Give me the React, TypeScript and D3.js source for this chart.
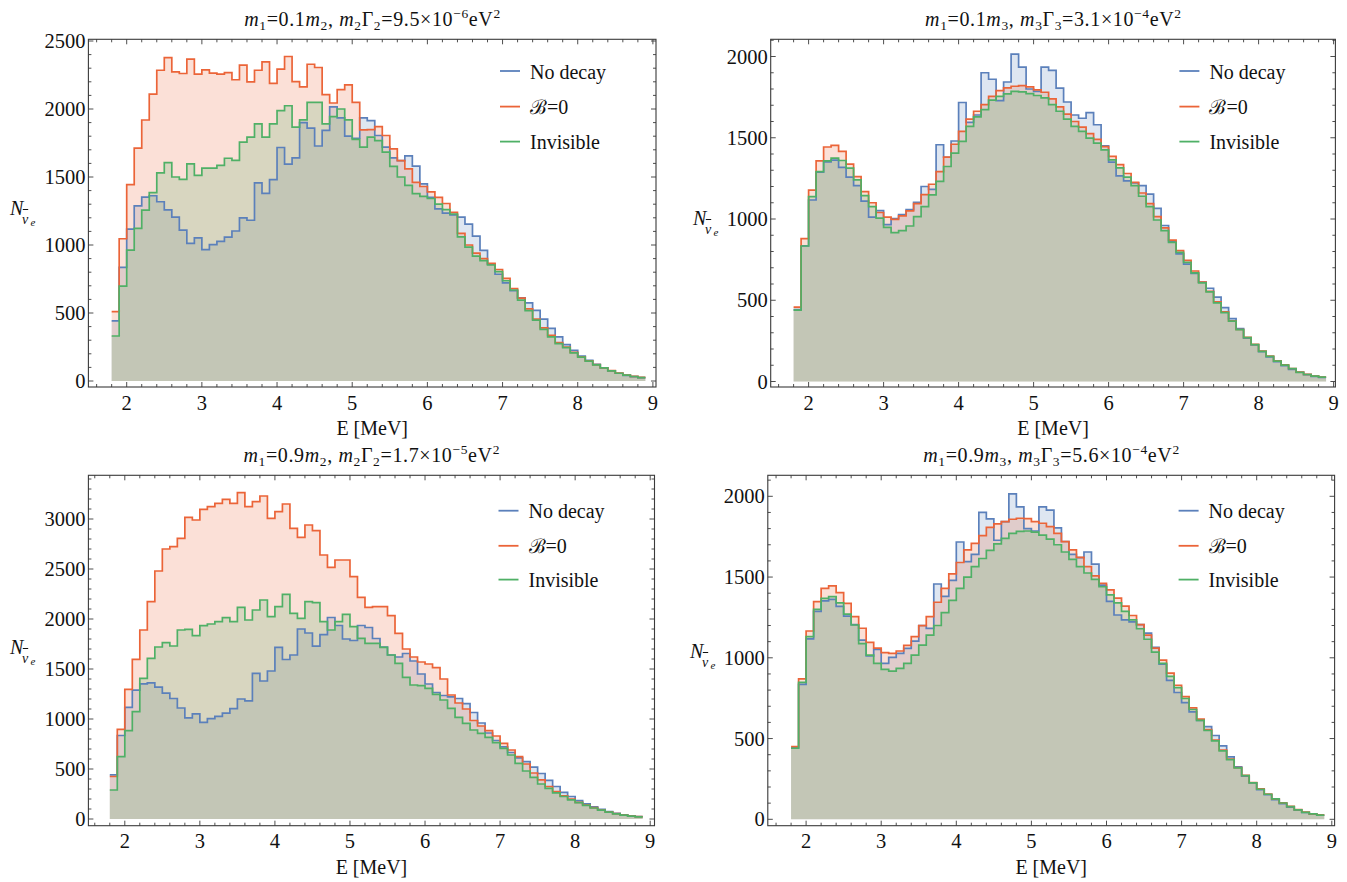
import React from "react";
import * as d3 from "d3";

// ---------- data (bins of 0.1 MeV starting at 1.8 MeV) ----------
const binStart = 1.8;
const binWidth = 0.1;

const noDecay = [
  442, 835, 1117, 1288, 1352, 1362, 1318, 1258, 1205, 1110,
  1012, 1052, 966, 1003, 1027, 1058, 1103, 1200, 1182, 1457,
  1380, 1480, 1717, 1595, 1640, 1900, 1860, 1728, 1843, 2015,
  1935, 1800, 1785, 1935, 1915, 1805, 1720, 1640, 1620, 1655,
  1580, 1450, 1350, 1265, 1235, 1222, 1205, 1153, 1065, 960,
  860, 785, 722, 665, 612, 574, 519, 455, 387, 325,
  267, 225, 184, 152, 122, 97, 75, 57, 42, 32,
  25,
];

const bZero1 = [
  510, 1046, 1444, 1712, 1919, 2110, 2285, 2378, 2273, 2261,
  2366, 2256, 2288, 2264, 2256, 2268, 2215, 2322, 2200, 2285,
  2346, 2188, 2293, 2386, 2202, 2163, 2329, 2305, 2105, 2044,
  2142, 2178, 2049, 1846, 1849, 1871, 1805, 1707, 1620, 1560,
  1460, 1430, 1390, 1350, 1305, 1240, 1085, 1000, 940, 900,
  865, 820, 755, 680, 610, 530, 455, 390, 335, 282,
  250, 210, 178, 148, 120, 97, 76, 58, 44, 34,
  26,
];
const invisible1 = [
  331, 698, 963, 1122, 1257, 1385, 1531, 1605, 1500, 1483,
  1597, 1512, 1565, 1565, 1585, 1638, 1622, 1756, 1793, 1890,
  1793, 1890, 1988, 2024, 1866, 1920, 2049, 2049, 1890, 1944,
  2000, 1920, 1776, 1720, 1793, 1768, 1683, 1578, 1500, 1439,
  1378, 1358, 1342, 1300, 1260, 1228, 1060, 985, 918, 885,
  853, 804, 737, 669, 595, 517, 448, 380, 325, 275,
  245, 207, 176, 146, 119, 96, 75, 57, 43, 33,
  25,
];

const bZero2 = [
  458, 879, 1178, 1358, 1443, 1453, 1416, 1338, 1261, 1169,
  1100, 1040, 1011, 998, 1019, 1050, 1095, 1150, 1214, 1292,
  1381, 1460, 1539, 1615, 1663, 1704, 1755, 1790, 1807, 1817,
  1821, 1813, 1795, 1780, 1739, 1690, 1645, 1600, 1565, 1525,
  1490, 1445, 1385, 1335, 1280, 1225, 1160, 1095, 1015, 945,
  870, 805, 745, 680, 612, 555, 490, 428, 373, 320,
  272, 228, 187, 156, 127, 102, 80, 58, 44, 34,
  27,
];
const invisible2 = [
  439, 834, 1138, 1292, 1358, 1375, 1360, 1313, 1241, 1144,
  1076, 1005, 949, 916, 928, 957, 1015, 1076, 1148, 1231,
  1323, 1406, 1478, 1570, 1628, 1673, 1731, 1755, 1770, 1786,
  1782, 1772, 1760, 1745, 1704, 1663, 1615, 1570, 1539, 1498,
  1467, 1426, 1364, 1315, 1258, 1205, 1140, 1076, 994, 928,
  856, 795, 733, 669, 607, 552, 484, 424, 371, 319,
  270, 227, 185, 155, 126, 101, 79, 56, 43, 33,
  27,
];

const bZero3 = [
  425, 897, 1297, 1597, 1890, 2173, 2480, 2700, 2723, 2807,
  3017, 2990, 3097, 3123, 3157, 3197, 3157, 3263, 3123, 3173,
  3230, 3007, 3073, 3150, 2907, 2817, 2940, 2883, 2640, 2517,
  2590, 2590, 2423, 2217, 2117, 2123, 2123, 2033, 1857, 1700,
  1620, 1570, 1550, 1513, 1400, 1240, 1160, 1100, 985, 930,
  883, 830, 757, 690, 623, 550, 460, 392, 325, 275,
  232, 198, 167, 140, 113, 90, 70, 53, 40, 30,
  23,
];
const invisible3 = [
  290, 623, 883, 1073, 1407, 1607, 1720, 1763, 1730, 1890,
  1897, 1833, 1933, 1950, 1973, 2013, 1973, 2117, 1990, 2090,
  2190, 2023, 2123, 2247, 2057, 2007, 2173, 2163, 1973, 1890,
  1973, 2047, 1923, 1807, 1757, 1757, 1717, 1640, 1557, 1417,
  1340, 1333, 1307, 1247, 1190, 1107, 1017, 957, 890, 857,
  817, 763, 707, 640, 557, 480, 417, 350, 307, 262,
  225, 192, 163, 137, 110, 88, 68, 52, 39, 29,
  22,
];

const bZero4 = [
  450, 870, 1166, 1348, 1430, 1445, 1403, 1337, 1255, 1183,
  1095, 1060, 1032, 1027, 1042, 1077, 1131, 1199, 1255, 1344,
  1430, 1520, 1590, 1668, 1709, 1756, 1808, 1829, 1843, 1858,
  1864, 1862, 1843, 1833, 1812, 1771, 1719, 1668, 1622, 1564,
  1507, 1461, 1420, 1370, 1320, 1262, 1205, 1140, 1060, 985,
  905, 830, 760, 690, 620, 555, 490, 428, 372, 320,
  272, 228, 188, 156, 127, 102, 80, 60, 45, 34,
  27,
];
const invisible4 = [
  440, 848, 1131, 1300, 1368, 1379, 1340, 1271, 1203, 1088,
  1017, 965, 928, 918, 935, 966, 1017, 1079, 1140, 1200,
  1280, 1355, 1430, 1500, 1565, 1615, 1665, 1705, 1740, 1770,
  1783, 1785, 1778, 1760, 1735, 1700, 1655, 1610, 1565, 1525,
  1485, 1440, 1390, 1340, 1288, 1235, 1180, 1115, 1035, 965,
  885, 815, 748, 680, 612, 550, 485, 424, 370, 318,
  270, 226, 186, 155, 126, 101, 79, 58, 43, 33,
  26,
];

const seriesNames = ["No decay", "\u212C=0", "Invisible"];
const seriesColors = ["#5b80bb", "#eb6438", "#4fb066"];

const xMajorTicks = [2, 3, 4, 5, 6, 7, 8, 9];
const yMajorTicks1 = [0, 500, 1000, 1500, 2000, 2500];
const yMajorTicks2 = [0, 500, 1000, 1500, 2000];
const yMajorTicks3 = [0, 500, 1000, 1500, 2000, 2500, 3000];
const yMajorTicks4 = [0, 500, 1000, 1500, 2000];

type Title = { ratio: string; idx: string; value: string; exp: string };

const titles: Title[] = [
  { ratio: "0.1", idx: "2", value: "9.5", exp: "\u22126" },
  { ratio: "0.1", idx: "3", value: "3.1", exp: "\u22124" },
  { ratio: "0.9", idx: "2", value: "1.7", exp: "\u22125" },
  { ratio: "0.9", idx: "3", value: "5.6", exp: "\u22124" },
];

// layout (pixel geometry of each frame)
const layouts = [
  { left: 88.4, right: 656, top: 39.3, bottom: 387, x2: 126.7, x9: 652.9, y0: 381, yRef: 2500, yRefPx: 41, nx: 10, ny: 215, titleY: 25.5 },
  { left: 770.7, right: 1335.4, top: 39.3, bottom: 387, x2: 808.6, x9: 1333.6, y0: 381.5, yRef: 2000, yRefPx: 56.5, nx: 693, ny: 225, titleY: 25.5 },
  { left: 88.4, right: 654.5, top: 475.3, bottom: 825.7, x2: 124.8, x9: 650.2, y0: 819, yRef: 3000, yRefPx: 519, nx: 10, ny: 654, titleY: 461.5 },
  { left: 767.8, right: 1334.6, top: 475.3, bottom: 825.7, x2: 806.1, x9: 1331.8, y0: 819.3, yRef: 2000, yRefPx: 496.3, nx: 690, ny: 658, titleY: 461.5 },
];

const panelSeries = [
  [noDecay, bZero1, invisible1],
  [noDecay, bZero2, invisible2],
  [noDecay, bZero3, invisible3],
  [noDecay, bZero4, invisible4],
];
const panelYTicks = [yMajorTicks1, yMajorTicks2, yMajorTicks3, yMajorTicks4];

const FONT = "'Liberation Serif', 'Times New Roman', Times, serif";
const frameColor = "#3a3a3a";

function TitleText({ t, cx, y }: { t: Title; cx: number; y: number }) {
  const fs = 20;
  const ss = 13.5;
  return (
    <text x={cx} y={y} textAnchor="middle" fontSize={fs} fontFamily={FONT} fill="#111" textLength={256} lengthAdjust="spacing">
      <tspan fontStyle="italic">m</tspan>
      <tspan fontSize={ss} dy={4}>1</tspan>
      <tspan dy={-4}>{"=" + t.ratio}</tspan>
      <tspan fontStyle="italic">m</tspan>
      <tspan fontSize={ss} dy={4}>{t.idx}</tspan>
      <tspan dy={-4}>{", "}</tspan>
      <tspan fontStyle="italic">m</tspan>
      <tspan fontSize={ss} dy={4}>{t.idx}</tspan>
      <tspan dy={-4}>{"\u0393"}</tspan>
      <tspan fontSize={ss} dy={4}>{t.idx}</tspan>
      <tspan dy={-4}>{"=" + t.value + "\u00D710"}</tspan>
      <tspan fontSize={ss} dy={-8}>{t.exp}</tspan>
      <tspan dy={8}>eV</tspan>
      <tspan fontSize={ss} dy={-8}>2</tspan>
    </text>
  );
}

function Panel({ idx }: { idx: number }) {
  const L = layouts[idx];
  const series = panelSeries[idx];
  const x = d3.scaleLinear().domain([2, 9]).range([L.x2, L.x9]);
  const y = d3.scaleLinear().domain([0, L.yRef]).range([L.y0, L.yRefPx]);
  const yMin = y.invert(L.bottom);
  const yMax = y.invert(L.top);
  const xMin = x.invert(L.left);
  const xMax = x.invert(L.right);

  const toPts = (vals: number[]) => {
    const pts: [number, number][] = vals.map((v, i) => [binStart + i * binWidth, v]);
    pts.push([binStart + vals.length * binWidth, vals[vals.length - 1]]);
    return pts;
  };
  const line = d3.line<[number, number]>().x((d) => x(d[0])).y((d) => y(d[1])).curve(d3.curveStepAfter);
  const area = d3
    .area<[number, number]>()
    .x((d) => x(d[0]))
    .y0(y(0))
    .y1((d) => y(d[1]))
    .curve(d3.curveStepAfter);

  const xMinor = d3.range(Math.ceil(xMin / 0.2) * 0.2, xMax, 0.2).filter((v) => Math.abs(v - Math.round(v)) > 1e-6);
  const yMinor = d3.range(Math.ceil(yMin / 100) * 100, yMax, 100).filter((v) => Math.abs(v % 500) > 1e-6);
  const yMajor = panelYTicks[idx];

  const clipId = `clip${idx}`;
  const legendTop = idx < 2 ? [71, 106.6, 141.6] : [510.7, 545.8, 579.6];
  const cx = (L.left + L.right) / 2;

  const tickLines: JSX.Element[] = [];
  xMajorTicks.forEach((v, i) => {
    tickLines.push(<line key={`xb${i}`} x1={x(v)} x2={x(v)} y1={L.bottom} y2={L.bottom - 5} />);
    tickLines.push(<line key={`xt${i}`} x1={x(v)} x2={x(v)} y1={L.top} y2={L.top + 5} />);
  });
  xMinor.forEach((v, i) => {
    tickLines.push(<line key={`xbm${i}`} x1={x(v)} x2={x(v)} y1={L.bottom} y2={L.bottom - 3} />);
    tickLines.push(<line key={`xtm${i}`} x1={x(v)} x2={x(v)} y1={L.top} y2={L.top + 3} />);
  });
  yMajor.forEach((v, i) => {
    tickLines.push(<line key={`yl${i}`} x1={L.left} x2={L.left + 5} y1={y(v)} y2={y(v)} />);
    tickLines.push(<line key={`yr${i}`} x1={L.right} x2={L.right - 5} y1={y(v)} y2={y(v)} />);
  });
  yMinor.forEach((v, i) => {
    tickLines.push(<line key={`ylm${i}`} x1={L.left} x2={L.left + 3} y1={y(v)} y2={y(v)} />);
    tickLines.push(<line key={`yrm${i}`} x1={L.right} x2={L.right - 3} y1={y(v)} y2={y(v)} />);
  });

  return (
    <g>
      <defs>
        <clipPath id={clipId}>
          <rect x={L.left} y={L.top} width={L.right - L.left} height={L.bottom - L.top} />
        </clipPath>
      </defs>
      <g clipPath={`url(#${clipId})`}>
        {series.map((s, i) => (
          <path key={`a${i}`} d={area(toPts(s)) || ""} fill={seriesColors[i]} fillOpacity={0.2} stroke="none" />
        ))}
        {series.map((s, i) => (
          <path key={`l${i}`} d={line(toPts(s)) || ""} fill="none" stroke={seriesColors[i]} strokeWidth={1.7} strokeLinejoin="miter" />
        ))}
      </g>
      <rect x={L.left} y={L.top} width={L.right - L.left} height={L.bottom - L.top} fill="none" stroke={frameColor} strokeWidth={1.1} />
      <g stroke={frameColor} strokeWidth={0.9}>{tickLines}</g>
      <g fontFamily={FONT} fontSize={20.5} fill="#111">
        {xMajorTicks.map((v, i) => (
          <text key={`xl${i}`} x={x(v)} y={L.bottom + 22.5} textAnchor="middle">
            {v}
          </text>
        ))}
        {yMajor.map((v, i) => (
          <text key={`yl${i}`} x={L.left - 3} y={y(v) + 7} textAnchor="end">
            {v}
          </text>
        ))}
        <text x={cx} y={L.bottom + 48} textAnchor="middle" fontSize={20}>
          E [MeV]
        </text>
      </g>
      {/* y label N_{\bar nu_e} */}
      <g fontFamily={FONT} fill="#111" fontStyle="italic">
        <text x={L.nx} y={L.ny} fontSize={20}>N</text>
        <text x={L.nx + 12} y={L.ny + 8.5} fontSize={14}>{"\u03BD"}</text>
        <line x1={L.nx + 12.8} x2={L.nx + 18.2} y1={L.ny - 5.5} y2={L.ny - 5.5} stroke="#111" strokeWidth={1} />
        <text x={L.nx + 20.5} y={L.ny + 11} fontSize={11}>e</text>
      </g>
      <TitleText t={titles[idx]} cx={cx} y={L.titleY} />
      {/* legend */}
      <g fontFamily={FONT} fontSize={20} fill="#111">
        {seriesNames.map((n, i) => (
          <g key={`lg${i}`}>
            <line x1={L.right - 156} x2={L.right - 136} y1={legendTop[i]} y2={legendTop[i]} stroke={seriesColors[i]} strokeWidth={1.8} />
            <text x={L.right - 126} y={legendTop[i] + 7.5}>{n}</text>
          </g>
        ))}
      </g>
    </g>
  );
}

export default function App() {
  return (
    <svg width={1347} height={882} viewBox="0 0 1347 882" style={{ display: "block", position: "absolute", left: 0, top: 0, background: "#fff" }}>
      <rect x={0} y={0} width={1347} height={882} fill="#fff" />
      {[0, 1, 2, 3].map((i) => (
        <Panel key={i} idx={i} />
      ))}
    </svg>
  );
}
